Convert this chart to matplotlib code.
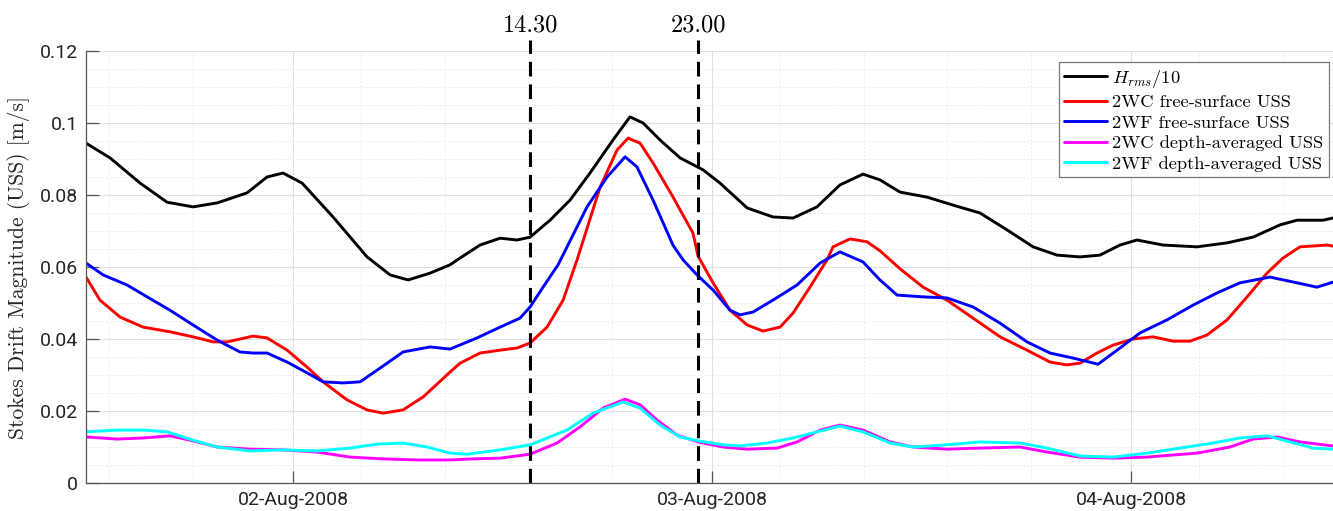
import datetime
import matplotlib
matplotlib.use('Agg')
import matplotlib.pyplot as plt
import matplotlib.dates as mdates
import matplotlib.ticker as ticker
import numpy as np

plt.rcParams['mathtext.fontset'] = 'cm'
plt.rcParams['axes.unicode_minus'] = False

# time in hours from 02-Aug-2008 00:00, values in m/s
hrms_t = [-11.86, -10.48, -8.76, -7.22, -5.73, -4.35, -2.63, -1.49, -0.57, 0.52, 2.29, 4.24, 5.56,
          6.59, 7.85, 8.99, 9.57, 10.71, 11.86, 12.83, 13.58, 14.72, 15.87, 17.01, 18.33, 19.30, 20.05,
          21.02, 22.17, 23.48, 24.46, 26.01, 27.49, 28.64, 30.01, 31.33, 32.65, 33.62, 34.77, 36.32,
          37.80, 39.35, 40.90, 42.39, 43.76, 45.08, 46.22, 47.37, 48.34, 49.83, 51.78, 53.50, 54.99,
          56.54, 57.51, 59.00, 59.57]
hrms = [0.0944, 0.0903, 0.0833, 0.0780, 0.0767, 0.0778, 0.0806, 0.0850, 0.0861, 0.0833, 0.0739, 0.0628,
        0.0578, 0.0564, 0.0583, 0.0606, 0.0625, 0.0661, 0.0680, 0.0675, 0.0683, 0.0730, 0.0786, 0.0861,
        0.0953, 0.1017, 0.1000, 0.0953, 0.0903, 0.0870, 0.0833, 0.0764, 0.0739, 0.0736, 0.0767, 0.0828,
        0.0858, 0.0842, 0.0808, 0.0794, 0.0772, 0.0750, 0.0703, 0.0656, 0.0633, 0.0628, 0.0633, 0.0661,
        0.0675, 0.0661, 0.0656, 0.0667, 0.0683, 0.0717, 0.0730, 0.0730, 0.0736]

wc_fs_t = [-11.86, -11.06, -9.91, -8.59, -7.05, -5.73, -4.58, -3.78, -2.29, -1.49, -0.34, 0.80, 1.72,
           3.09, 4.24, 5.16, 6.30, 7.45, 8.99, 9.57, 10.71, 11.86, 12.83, 13.58, 14.55, 15.47, 16.27,
           17.59, 18.56, 19.19, 19.88, 20.62, 21.77, 22.91, 23.20, 24.06, 25.03, 26.01, 26.92, 27.90,
           28.64, 29.61, 30.59, 30.93, 31.90, 32.88, 33.62, 34.77, 36.09, 37.46, 38.95, 40.50, 42.04,
           43.36, 44.33, 45.08, 46.05, 46.97, 48.12, 49.26, 50.41, 51.38, 52.35, 53.50, 54.65, 55.79,
           56.71, 57.68, 59.23, 59.57]
wc_fs = [0.0572, 0.0508, 0.0461, 0.0433, 0.0420, 0.0406, 0.0392, 0.0392, 0.0408, 0.0403, 0.0369, 0.0322,
         0.0281, 0.0231, 0.0203, 0.0194, 0.0203, 0.0239, 0.0308, 0.0333, 0.0361, 0.0369, 0.0375, 0.0389,
         0.0433, 0.0508, 0.0620, 0.0822, 0.0925, 0.0958, 0.0944, 0.0889, 0.0794, 0.0694, 0.0630, 0.0556,
         0.0480, 0.0439, 0.0422, 0.0433, 0.0472, 0.0544, 0.0620, 0.0656, 0.0678, 0.0670, 0.0645, 0.0595,
         0.0544, 0.0508, 0.0458, 0.0406, 0.0369, 0.0336, 0.0328, 0.0333, 0.0361, 0.0383, 0.0400, 0.0406,
         0.0394, 0.0394, 0.0411, 0.0453, 0.0517, 0.0583, 0.0625, 0.0656, 0.0661, 0.0658]

wf_fs_t = [-11.86, -10.88, -9.51, -8.36, -7.05, -5.73, -4.35, -3.04, -2.29, -1.49, -0.34, 0.80, 1.72,
           2.86, 3.84, 4.98, 6.30, 7.85, 8.99, 10.54, 11.86, 13.00, 13.58, 14.32, 15.18, 16.84, 17.99,
           19.02, 19.70, 20.62, 21.77, 22.34, 23.14, 24.06, 25.03, 25.60, 26.35, 27.49, 28.87, 30.19,
           31.33, 32.65, 33.62, 34.60, 36.09, 37.46, 38.95, 40.50, 42.04, 43.36, 44.68, 46.11, 47.37,
           48.52, 50.06, 51.55, 52.93, 54.24, 55.96, 57.51, 58.65, 59.57]
wf_fs = [0.0611, 0.0578, 0.0550, 0.0517, 0.0480, 0.0439, 0.0397, 0.0364, 0.0361, 0.0361, 0.0336, 0.0306,
         0.0281, 0.0278, 0.0281, 0.0319, 0.0364, 0.0378, 0.0372, 0.0403, 0.0433, 0.0458, 0.0489, 0.0544,
         0.0606, 0.0767, 0.0850, 0.0906, 0.0878, 0.0786, 0.0660, 0.0620, 0.0578, 0.0536, 0.0480, 0.0467,
         0.0475, 0.0508, 0.0550, 0.0611, 0.0642, 0.0614, 0.0564, 0.0522, 0.0517, 0.0514, 0.0489, 0.0444,
         0.0392, 0.0361, 0.0347, 0.0330, 0.0375, 0.0417, 0.0453, 0.0494, 0.0528, 0.0556, 0.0572, 0.0556,
         0.0544, 0.0558]

wc_da_t = [-11.86, -10.08, -8.59, -7.05, -5.90, -4.35, -2.46, -0.57, 1.37, 3.27, 5.16, 7.10, 8.99,
           10.31, 11.86, 13.58, 15.12, 16.44, 17.76, 19.02, 19.88, 20.85, 22.00, 23.20, 24.63, 26.01,
           27.72, 28.87, 30.19, 31.33, 32.65, 34.20, 35.51, 37.46, 39.35, 41.64, 43.19, 45.08, 46.97,
           48.92, 51.78, 53.67, 54.99, 56.36, 57.68, 59.57]
wc_da = [0.0128, 0.0122, 0.0125, 0.0131, 0.0119, 0.0100, 0.0094, 0.0092, 0.0086, 0.0072, 0.0067, 0.0064,
         0.0064, 0.0067, 0.0069, 0.0080, 0.0111, 0.0156, 0.0208, 0.0233, 0.0217, 0.0175, 0.0133, 0.0114,
         0.0100, 0.0094, 0.0097, 0.0114, 0.0147, 0.0161, 0.0147, 0.0114, 0.0100, 0.0094, 0.0097, 0.0100,
         0.0086, 0.0072, 0.0069, 0.0072, 0.0083, 0.0100, 0.0122, 0.0128, 0.0114, 0.0103]

wf_da_t = [-11.86, -10.08, -8.59, -7.22, -5.73, -4.35, -2.46, -0.57, 1.37, 3.27, 4.81, 6.30, 7.68, 8.99,
           9.97, 11.86, 13.58, 15.69, 17.18, 18.90, 19.88, 21.02, 22.17, 23.20, 24.63, 25.60, 27.15,
           28.64, 30.01, 31.33, 32.65, 34.20, 35.51, 37.46, 39.35, 41.64, 43.19, 45.08, 46.97, 48.92,
           50.81, 52.70, 54.24, 55.79, 57.11, 58.43, 59.57]
wf_da = [0.0142, 0.0147, 0.0147, 0.0142, 0.0119, 0.0100, 0.0089, 0.0092, 0.0089, 0.0097, 0.0108, 0.0111,
         0.0100, 0.0083, 0.0080, 0.0092, 0.0106, 0.0147, 0.0194, 0.0225, 0.0208, 0.0161, 0.0128, 0.0117,
         0.0106, 0.0103, 0.0111, 0.0125, 0.0142, 0.0158, 0.0142, 0.0111, 0.0100, 0.0106, 0.0114, 0.0111,
         0.0097, 0.0075, 0.0072, 0.0083, 0.0097, 0.0111, 0.0125, 0.0131, 0.0114, 0.0097, 0.0094]

series_labels = [r'$H_{rms}/10$', '2WC free-surface USS', '2WF free-surface USS',
                 '2WC depth-averaged USS', '2WF depth-averaged USS']
series_colors = ['#000000', '#ff0000', '#0000ff', '#ff00ff', '#00ffff']

event_t = [13.58, 23.20]
event_labels = ['14.30', '23.00']

t_start, t_end = -11.86, 59.57
minor_hours = [3.88, 8.68, 13.48, 18.28]

day0 = mdates.date2num(datetime.datetime(2008, 8, 2))


def hours_to_num(h):
    return day0 + np.asarray(h) / 24.0


fig = plt.figure(figsize=(13.33, 5.11), dpi=100)
ax = fig.add_axes([86 / 1333, 28 / 511, 1247 / 1333, 432 / 511])

all_t = [hrms_t, wc_fs_t, wf_fs_t, wc_da_t, wf_da_t]
all_v = [hrms, wc_fs, wf_fs, wc_da, wf_da]
for t, v, c, lab in zip(all_t, all_v, series_colors, series_labels):
    ax.plot(hours_to_num(t), v, color=c, lw=2.1, label=lab,
            solid_joinstyle='round', solid_capstyle='round')

for t, lab in zip(event_t, event_labels):
    ln, = ax.plot(hours_to_num([t, t]), [0, 0.1231], color='k', lw=2.2, clip_on=False)
    ln.set_dashes((4.8, 2.6))
    ax.text(hours_to_num(t), 0.1253, lab, ha='center', va='baseline',
            family='cmr10', fontsize=17.5, color='k')

ax.set_xlim(hours_to_num(t_start), hours_to_num(t_end))
ax.set_ylim(0, 0.12)

ax.xaxis.set_major_locator(mdates.DayLocator())
ax.xaxis.set_major_formatter(mdates.DateFormatter('%d-%b-%Y'))
minor_locs = []
for d in range(-1, 3):
    for mh in minor_hours:
        minor_locs.append(hours_to_num(d * 24 + mh))
ax.xaxis.set_minor_locator(ticker.FixedLocator(minor_locs))
ax.yaxis.set_major_locator(ticker.MultipleLocator(0.02))
ax.yaxis.set_minor_locator(ticker.MultipleLocator(0.005))
ax.yaxis.set_major_formatter(ticker.FormatStrFormatter('%g'))

ax.grid(which='major', color='#e0e0e0', lw=0.8, ls='-')
ax.grid(which='minor', color='#ececec', lw=0.7, ls=(0, (2, 2)))
ax.set_axisbelow(True)

for s in ['top', 'right']:
    ax.spines[s].set_visible(False)
for s in ['left', 'bottom']:
    ax.spines[s].set_color('#555555')
    ax.spines[s].set_linewidth(0.9)

ax.tick_params(which='major', direction='in', length=9, width=0.9, color='#555555',
               labelcolor='#262626', labelsize=14, pad=6)
ax.tick_params(which='minor', length=0)
for lbl in ax.get_xticklabels() + ax.get_yticklabels():
    lbl.set_family('Roboto')

fig.text(19 / 1333, 1 - 267.5 / 511, 'Stokes Drift Magnitude (USS) [m/s]', rotation=90,
         ha='center', va='center', family='cmr10', fontsize=15.5, color='#262626')

leg = ax.legend(loc='upper right', bbox_to_anchor=(1329 / 1333, 1 - 62 / 511),
                bbox_transform=fig.transFigure, borderaxespad=0,
                prop={'family': 'cmr10', 'size': 13.3},
                handlelength=2.3, handletextpad=0.3, labelspacing=0.25, borderpad=0.3,
                fancybox=False, framealpha=1, edgecolor='#777777')
leg.get_frame().set_linewidth(0.9)

fig.savefig('out.png', dpi=100)
